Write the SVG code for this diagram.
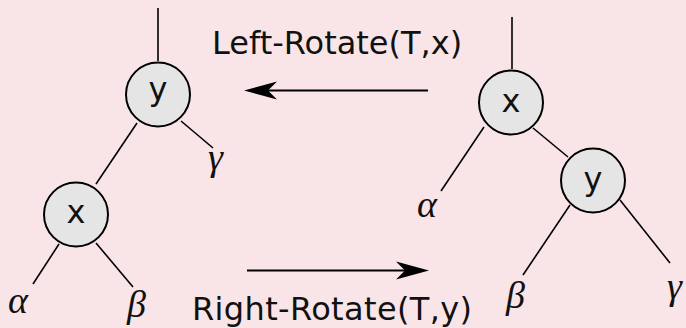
<svg xmlns="http://www.w3.org/2000/svg" width="686" height="328" viewBox="0 0 686 328">
  <style>
    .bg { fill: #F9E5E7; }
    .node circle { fill: #E5E5E5; stroke: #000; stroke-width: 2; }
    .node text { font-family: "DejaVu Sans", sans-serif; font-size: 32px; fill: #111; text-anchor: middle; }
    .edge { stroke: #000; stroke-width: 1.6; fill: none; }
    .arrow { stroke: #000; stroke-width: 2; fill: none; }
    .label { font-family: "DejaVu Sans", sans-serif; font-size: 32px; fill: #111; }
    .greek { font-family: "Liberation Serif", "DejaVu Serif", serif; font-style: italic; font-size: 38px; fill: #111; }
  </style>
  <defs>
    <marker id="head" viewBox="-10 -10 35 20" refX="0" refY="0" markerWidth="35" markerHeight="20" markerUnits="userSpaceOnUse" orient="auto">
      <path d="M24,0 L-9,-9 L0,0 L-9,9 Z" fill="#000"/>
    </marker>
  </defs>
  <rect class="bg" x="0" y="0" width="686" height="328"/>

  <g id="connectors">
    <!-- left tree -->
    <line class="edge" x1="158" y1="8" x2="158" y2="61"/>
    <line class="edge" x1="137" y1="123" x2="96" y2="184"/>
    <line class="edge" x1="181" y1="121" x2="213" y2="148"/>
    <line class="edge" x1="59" y1="244" x2="33" y2="284"/>
    <line class="edge" x1="96" y1="243" x2="133" y2="287"/>
    <!-- right tree -->
    <line class="edge" x1="512" y1="17" x2="512" y2="69"/>
    <line class="edge" x1="533" y1="128" x2="568" y2="157"/>
    <line class="edge" x1="484" y1="127" x2="441" y2="191"/>
    <line class="edge" x1="570" y1="205" x2="523" y2="275"/>
    <line class="edge" x1="620" y1="200" x2="670" y2="263"/>
    <!-- rotation arrows -->
    <line class="arrow" x1="428" y1="90.5" x2="268" y2="90.5" marker-end="url(#head)"/>
    <line class="arrow" x1="247" y1="270.5" x2="405" y2="270.5" marker-end="url(#head)"/>
  </g>

  <g id="node-left-y" class="node">
    <circle cx="158" cy="94.5" r="32"/>
    <text x="158" y="100">y</text>
  </g>
  <g id="node-left-x" class="node">
    <circle cx="76" cy="214.5" r="32"/>
    <text x="76" y="223">x</text>
  </g>
  <g id="node-right-x" class="node">
    <circle cx="511" cy="102.5" r="32"/>
    <text x="511" y="112">x</text>
  </g>
  <g id="node-right-y" class="node">
    <circle cx="593" cy="180.5" r="32"/>
    <text x="593" y="190">y</text>
  </g>

  <g id="labels">
    <text class="label" x="212" y="54">Left-Rotate(T,x)</text>
    <text class="label" x="192" y="320" textLength="280" lengthAdjust="spacing">Right-Rotate(T,y)</text>
    <text class="greek" x="208" y="170">γ</text>
    <text class="greek" x="8" y="313">α</text>
    <text class="greek" x="127" y="317">β</text>
    <text class="greek" x="417" y="217">α</text>
    <text class="greek" x="506" y="308">β</text>
    <text class="greek" x="667" y="299">γ</text>
  </g>
</svg>
